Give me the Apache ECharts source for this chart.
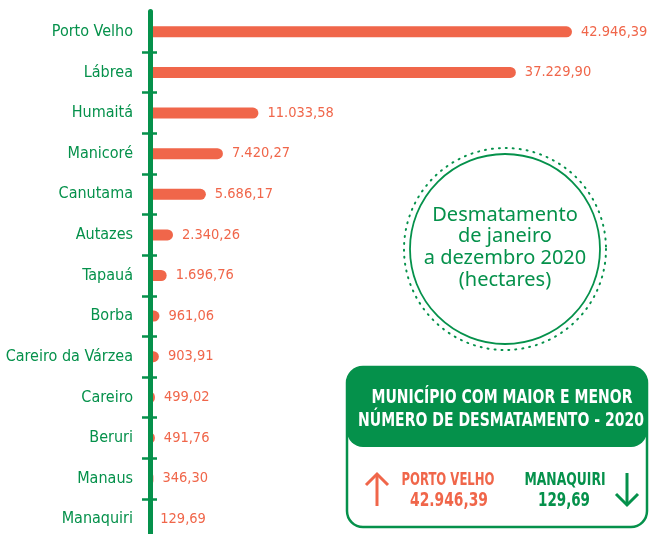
<!DOCTYPE html>
<html><head><meta charset="utf-8">
<script src="https://cdn.jsdelivr.net/npm/echarts@6/dist/echarts.min.js"></script>
<style>html,body{margin:0;padding:0;background:#fff}#c{width:649px;height:534px}</style>
</head><body><div id="c"></div>
<script>
const categories = ['Porto Velho','Lábrea','Humaitá','Manicoré','Canutama','Autazes','Tapauá','Borba','Careiro da Várzea','Careiro','Beruri','Manaus','Manaquiri'];
const values = [42946.39,37229.90,11033.58,7420.27,5686.17,2340.26,1696.76,961.06,903.91,499.02,491.76,346.30,129.69];
const circleTitle = ['Desmatamento','de janeiro','a dezembro 2020','(hectares)'];
const boxTitle = ['MUNICÍPIO COM MAIOR E MENOR','NÚMERO DE DESMATAMENTO - 2020'];

const G = '#05914b', O = '#f0664a';
const COND = '"DejaVu Sans Condensed","DejaVu Sans",sans-serif';
function fmt(v){ const p = v.toFixed(2).split('.'); return p[0].replace(/\B(?=(\d{3})+(?!\d))/g,'.') + ',' + p[1]; }
const maxI = values.indexOf(Math.max(...values));
const minI = values.indexOf(Math.min(...values));

const mctx = document.createElement('canvas').getContext('2d');
function fitText(text, x, y, font, width, color){
  mctx.font = font;
  const s = width / mctx.measureText(text).width;
  return {type:'text', x:x, y:y, scaleX:s, style:{text:text, fill:color, font:font, textAlign:'center', textVerticalAlign:'middle'}};
}

const chart = echarts.init(document.getElementById('c'), null, {renderer:'canvas'});
chart.setOption({
  backgroundColor:'#fff',
  animation:false,
  grid:{left:150, top:11.5, width:422, height:528, containLabel:false, outerBoundsMode:'none'},
  xAxis:{type:'value', min:0, max:values[maxI], show:false},
  yAxis:[
    {type:'category', data:categories, inverse:true, z:5,
     axisLine:{lineStyle:{color:G, width:5}},
     axisTick:{show:true, length:8, interval:(i)=>i!==0, lineStyle:{color:G, width:2.5}},
     axisLabel:{color:G, fontSize:16, margin:17, fontFamily:COND}},
    {type:'category', data:categories, inverse:true, position:'left', z:5,
     axisLine:{show:false},
     axisTick:{show:true, inside:true, length:7, interval:(i)=>i!==0, lineStyle:{color:G, width:2.5}},
     axisLabel:{show:false}}
  ],
  series:[{type:'bar', data:values, yAxisIndex:0, barWidth:11,
    itemStyle:{color:O, borderRadius:[0,5.5,5.5,0]},
    label:{show:true, position:'right', distance:9, color:O, fontSize:14.5, fontFamily:COND,
      formatter:(p)=>fmt(p.value)}}],
  graphic:[
    {type:'circle', shape:{cx:505, cy:249, r:101}, style:{fill:null, stroke:G, lineWidth:2, lineDash:[1,6], lineCap:'round'}},
    {type:'circle', shape:{cx:505, cy:249, r:95}, style:{fill:null, stroke:G, lineWidth:1.8}},
    ...circleTitle.map((t,i)=>({type:'text', x:505, y:215+i*21.7, style:{text:t, fill:G, font:'20px "Noto Sans"', textAlign:'center', textVerticalAlign:'middle'}})),
    {type:'rect', shape:{x:347, y:367, width:300, height:160, r:16}, style:{fill:'#fff', stroke:G, lineWidth:2.5}},
    {type:'rect', shape:{x:347, y:367, width:300, height:80, r:16}, style:{fill:G}},
    fitText(boxTitle[0], 502, 398, 'bold 20px '+COND, 261, '#fff'),
    fitText(boxTitle[1], 501, 421, 'bold 20px '+COND, 286, '#fff'),
    {type:'polyline', shape:{points:[[377,506],[377,474]]}, style:{stroke:O, lineWidth:3}},
    {type:'polyline', shape:{points:[[366,485],[377,474],[388,485]]}, style:{stroke:O, lineWidth:3, fill:null}},
    {type:'polyline', shape:{points:[[627,473],[627,505]]}, style:{stroke:G, lineWidth:3}},
    {type:'polyline', shape:{points:[[616,494],[627,505],[638,494]]}, style:{stroke:G, lineWidth:3, fill:null}},
    fitText(categories[maxI].toUpperCase(), 448, 480, 'bold 18px '+COND, 93, O),
    fitText(fmt(values[maxI]), 449, 501, 'bold 20px '+COND, 78, O),
    fitText(categories[minI].toUpperCase(), 565, 480, 'bold 18px '+COND, 81, G),
    fitText(fmt(values[minI]), 564, 501, 'bold 20px '+COND, 52, G)
  ]
});
</script></body></html>
